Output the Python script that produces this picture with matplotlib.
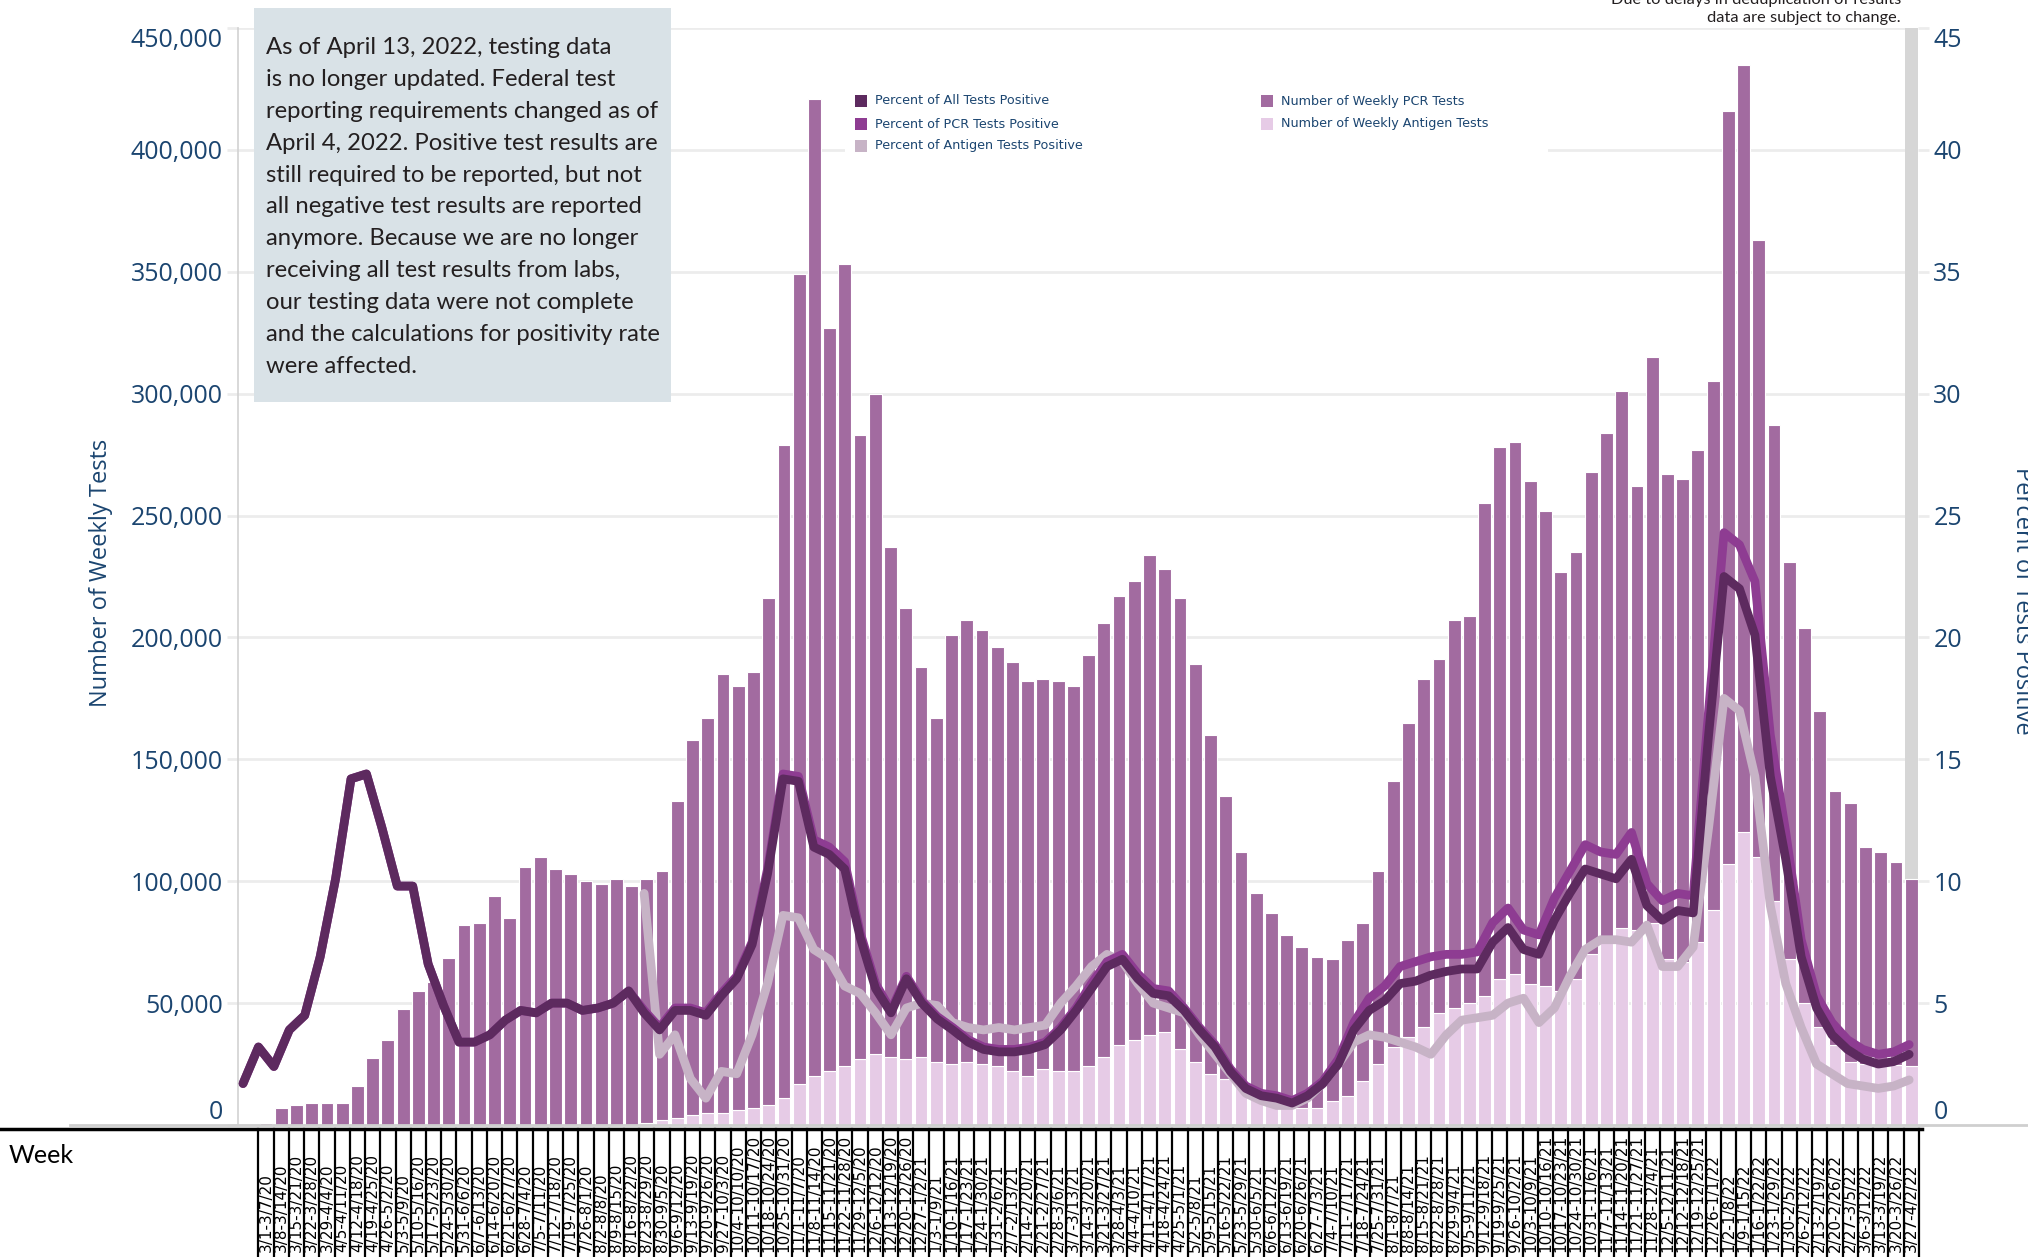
import numpy as np
import pandas as pd
import matplotlib
matplotlib.use("Agg")
import matplotlib.pyplot as plt
from matplotlib.patches import Rectangle
from matplotlib.lines import Line2D
from matplotlib.transforms import blended_transform_factory

W, H = 2028, 1257

# weekly buckets, Sunday to Saturday
week_starts = pd.date_range("2020-03-01", "2022-03-27", freq="7D")
week_labels = [f"{s.month}/{s.day}-{e.month}/{e.day}/{e.year % 100}"
               for s, e in zip(week_starts, week_starts + pd.Timedelta(days=6))]

# total weekly tests (PCR + antigen), thousands
total_tests_k = [
    1, 7, 8, 9, 9, 9, 16, 27.5, 35, 47.5, 55, 58.5, 68.5, 82, 83, 94, 85, 106, 110, 105,
    103, 100, 99, 101, 98, 101, 104, 133, 158, 167, 185, 180, 186, 216, 279, 349, 421, 327, 353, 283,
    300, 237, 212, 188, 167, 201, 207, 203, 196, 190, 182, 183, 182, 180, 193, 206, 217, 223, 234, 228,
    216, 189, 160, 135, 112, 95, 87, 78, 73, 69, 68, 76, 83, 104, 141, 165, 183, 191, 207, 209,
    255, 278, 280, 264, 252, 227, 235, 268, 284, 301, 262, 315, 267, 265, 277, 305, 416, 435, 363, 287,
    231, 204, 170, 137, 132, 114, 112, 108, 101,
]
# weekly antigen tests, thousands
antigen_tests_k = [
    0, 0, 0, 0, 0, 0, 0, 0, 0, 0, 0, 0, 0, 0, 0, 0, 0, 0, 0, 0,
    0, 0, 0, 0, 0, 1, 2, 3, 4, 5, 5, 6, 7, 8, 11, 17, 20, 22, 24, 27,
    29, 28, 27, 28, 26, 25, 26, 25, 24, 22, 20, 23, 22, 22, 24, 28, 33, 35, 37, 38,
    31, 26, 21, 19, 16, 13, 10, 8, 7, 7, 10, 12, 18, 25, 32, 36, 40, 46, 48, 50,
    53, 60, 62, 58, 57, 55, 60, 70, 77, 81, 80, 83, 68, 67, 75, 88, 107, 120, 110, 92,
    68, 50, 40, 33, 26, 25, 24.5, 24.5, 24,
]
# percent positive
pct_all = [
    1.7, 3.2, 2.4, 3.9, 4.5, 6.9, 10.1, 14.2, 14.4, 12.2, 9.8, 9.8, 6.6, 4.9, 3.4, 3.4, 3.7, 4.3, 4.7, 4.6,
    5.0, 5.0, 4.7, 4.8, 5.0, 5.5, 4.6, 3.9, 4.7, 4.7, 4.5, 5.3, 6.0, 7.4, 10.3, 14.2, 14.1, 11.4, 11.1, 10.5,
    7.7, 5.6, 4.6, 6.0, 5.0, 4.35, 3.9, 3.4, 3.1, 3.0, 3.0, 3.1, 3.3, 3.9, 4.7, 5.6, 6.5, 6.8, 6.0, 5.4,
    5.3, 4.7, 3.9, 3.2, 2.2, 1.5, 1.2, 1.1, 0.9, 1.2, 1.7, 2.5, 3.9, 4.7, 5.1, 5.8, 5.9, 6.15, 6.3, 6.4,
    6.4, 7.5, 8.1, 7.2, 7.0, 8.4, 9.5, 10.5, 10.3, 10.1, 10.9, 9.0, 8.4, 8.8, 8.7, 16.0, 22.5, 22.0, 20.1, 14.3,
    10.9, 6.9, 4.8, 3.7, 3.1, 2.7, 2.5, 2.6, 2.9,
]
pct_pcr = [
    1.7, 3.2, 2.4, 3.9, 4.5, 6.9, 10.1, 14.2, 14.4, 12.2, 9.8, 9.8, 6.6, 4.9, 3.4, 3.4, 3.7, 4.3, 4.7, 4.6,
    5.0, 5.0, 4.7, 4.8, 5.0, 5.5, 4.7, 4.0, 4.8, 4.8, 4.6, 5.4, 6.1, 7.5, 10.5, 14.4, 14.3, 11.7, 11.4, 10.8,
    7.9, 5.8, 4.7, 6.1, 5.1, 4.45, 4.0, 3.5, 3.2, 3.1, 3.1, 3.2, 3.4, 4.0, 4.8, 5.8, 6.7, 7.0, 6.2, 5.6,
    5.5, 4.8, 4.0, 3.3, 2.3, 1.6, 1.3, 1.2, 1.0, 1.3, 1.8, 2.7, 4.2, 5.2, 5.7, 6.5, 6.7, 6.9, 7.0, 7.0,
    7.1, 8.3, 8.9, 8.0, 7.8, 9.3, 10.4, 11.5, 11.2, 11.1, 12.0, 9.9, 9.2, 9.5, 9.4, 17.0, 24.3, 23.8, 22.3, 16.0,
    12.0, 7.6, 5.3, 4.2, 3.5, 3.1, 2.9, 3.0, 3.3,
]
pct_antigen = [
    None, None, None, None, None, None, None, None, None, None, None, None, None, None, None, None, None, None, None, None,
    None, None, None, None, None, None, 9.5, 2.9, 3.7, 1.9, 1.1, 2.2, 2.1, 3.7, 5.8, 8.6, 8.5, 7.2, 6.8, 5.7,
    5.4, 4.6, 3.7, 4.8, 5.0, 4.9, 4.2, 4.0, 3.9, 4.0, 3.9, 4.0, 4.1, 5.0, 5.7, 6.5, 7.0, 6.7, 5.8, 5.0,
    4.8, 4.6, 3.7, 2.9, 2.1, 1.3, 1.0, 0.8, 0.8, 1.1, 1.7, 2.5, 3.4, 3.7, 3.6, 3.4, 3.2, 2.9, 3.7, 4.3,
    4.4, 4.5, 5.0, 5.2, 4.2, 4.8, 6.1, 7.2, 7.6, 7.6, 7.5, 8.2, 6.5, 6.5, 7.3, 12.2, 17.5, 17.0, 14.3, 9.0,
    5.8, 4.0, 2.5, 2.1, 1.7, 1.6, 1.5, 1.6, 1.85,
]

navy = "#1b4570"
c_pcr_bar = "#a26ba0"
c_ag_bar = "#e6cbe6"
c_all = "#5d2a5f"
c_pcr = "#8e3c92"
c_ag = "#c7b3c6"

x = np.arange(len(week_labels))
total = np.array(total_tests_k) * 1000
antigen = np.array(antigen_tests_k) * 1000
p_ag = np.array([np.nan if v is None else v for v in pct_antigen], dtype=float)
# the percent lines sit on a slightly wider x scale than the bars
x_line = np.linspace(-1.51, 107.87, len(x))

fig = plt.figure(figsize=(W / 100, H / 100), dpi=100)
ax = fig.add_axes([238 / W, 1 - 1125 / H, (1918 - 238) / W, (1125 - 28) / H])
ax2 = ax.twinx()

def fx(px):
    return px / W

def fy(py):
    return 1 - py / H

# bars
ax.axvspan(107.6, 108.45, color="#d6d6d6", zorder=1, lw=0)
ax.bar(x, antigen, width=0.84, color=c_ag_bar, edgecolor="white", linewidth=0.8, zorder=2)
ax.bar(x, total - antigen, bottom=antigen, width=0.84, color=c_pcr_bar,
       edgecolor="white", linewidth=0.8, zorder=2)

ax.set_xlim(-1.84, 108.45)
ax.set_ylim(0, 450000)
ax.set_yticks(np.arange(0, 450001, 50000))
ax.set_yticklabels([f"{v:,}" for v in range(0, 450001, 50000)],
                   fontsize=18, color=navy, family=["Open Sans", "DejaVu Sans"])
ax.set_xticks([])
ax.set_axisbelow(True)
ax.grid(axis="y", color="#ececec", lw=2)
ax.tick_params(axis="y", length=8, width=2, color="#ececec", pad=3)
for s in ["top", "right", "bottom"]:
    ax.spines[s].set_visible(False)
ax.spines["left"].set_color("#d2d2d2")
ax.spines["left"].set_linewidth(1.2)

# white backdrop behind legend
ax.add_patch(Rectangle((fx(845), fy(162)), fx(1548 - 845), fy(84) - fy(162),
                       transform=fig.transFigure, color="white", zorder=0.8, lw=0))

# lines
kw = dict(lw=6.3, solid_joinstyle="round", solid_capstyle="round")
ax2.plot(x_line, p_ag, color=c_ag, zorder=3, **kw)
ax2.plot(x_line, pct_pcr, color=c_pcr, zorder=4, **kw)
ax2.plot(x_line, pct_all, color=c_all, zorder=5, **kw)
ax2.set_ylim(0, 45)
ax2.set_yticks(range(0, 46, 5))
ax2.set_yticklabels([str(v) for v in range(0, 46, 5)], fontsize=18, color=navy,
                    family=["Open Sans", "DejaVu Sans"])
ax2.tick_params(axis="y", length=8, width=2, color="#ececec", pad=3)
for s in ax2.spines.values():
    s.set_visible(False)

for a in (ax, ax2):
    labs = a.get_yticklabels()
    labs[0].set_va("bottom")
    labs[-1].set_va("top")

# axis titles
fig.text(fx(101), fy(573), "Number of Weekly Tests", rotation=90, ha="center", va="center",
         fontsize=17, color=navy, family=["Open Sans", "DejaVu Sans"])
fig.text(fx(2022), fy(601), "Percent of Tests Positive", rotation=270, ha="center", va="center",
         fontsize=17, color=navy, family=["Open Sans", "DejaVu Sans"])

# legend
leg_items = [
    (855, 101, c_all, "Percent of All Tests Positive"),
    (855, 124, c_pcr, "Percent of PCR Tests Positive"),
    (855, 146, c_ag, "Percent of Antigen Tests Positive"),
    (1261, 101, c_pcr_bar, "Number of Weekly PCR Tests"),
    (1261, 124, c_ag_bar, "Number of Weekly Antigen Tests"),
]
for px, py, col, lab in leg_items:
    fig.patches.append(Rectangle((fx(px), fy(py + 6)), fx(12), fy(py - 6) - fy(py + 6),
                                 transform=fig.transFigure, color=col, lw=0))
    fig.text(fx(px + 20), fy(py), lab, ha="left", va="center", fontsize=9.2, color=navy,
             family=["Liberation Sans Narrow", "DejaVu Sans"])

# note box
fig.patches.append(Rectangle((fx(254), fy(402)), fx(671 - 254), fy(8) - fy(402),
                             transform=fig.transFigure, color="#d9e2e7", lw=0, zorder=0))
note = ("As of April 13, 2022, testing data\n"
        "is no longer updated. Federal test\n"
        "reporting requirements changed as of\n"
        "April 4, 2022. Positive test results are\n"
        "still required to be reported, but not\n"
        "all negative test results are reported\n"
        "anymore. Because we are no longer\n"
        "receiving all test results from labs,\n"
        "our testing data were not complete\n"
        "and the calculations for positivity rate\n"
        "were affected.")
fig.text(fx(266), fy(37), note, ha="left", va="top", fontsize=17.2, color="#231f20",
         linespacing=1.64, family=["Lato", "DejaVu Sans"])

fig.text(fx(1901), fy(25), "Due to delays in deduplication of results\ndata are subject to change.",
         ha="right", va="bottom", fontsize=11.8, color="#231f20", linespacing=1.35,
         family=["Lato", "DejaVu Sans"])

# bottom table
fig.add_artist(Line2D([fx(70), 1], [fy(1125), fy(1125)], color="#cfcfcf", lw=2))
fig.add_artist(Line2D([0, fx(1922)], [fy(1129), fy(1129)], color="black", lw=2.5))
tr = blended_transform_factory(ax.transData, fig.transFigure)
for b in np.arange(-0.5, len(x), 1.0):
    ax.plot([b, b], [fy(1129), 0], color="black", lw=1.6, transform=tr, clip_on=False)
for i, lab in enumerate(week_labels):
    ax.text(i, fy(1252), lab, rotation=90, ha="center", va="bottom", fontsize=11,
            transform=tr, family=["Liberation Sans Narrow", "DejaVu Sans"], clip_on=False)
fig.text(fx(9), fy(1144), "Week", ha="left", va="top", fontsize=18, color="black",
         family=["Lato", "DejaVu Sans"])

fig.savefig("out.png", dpi=100)
